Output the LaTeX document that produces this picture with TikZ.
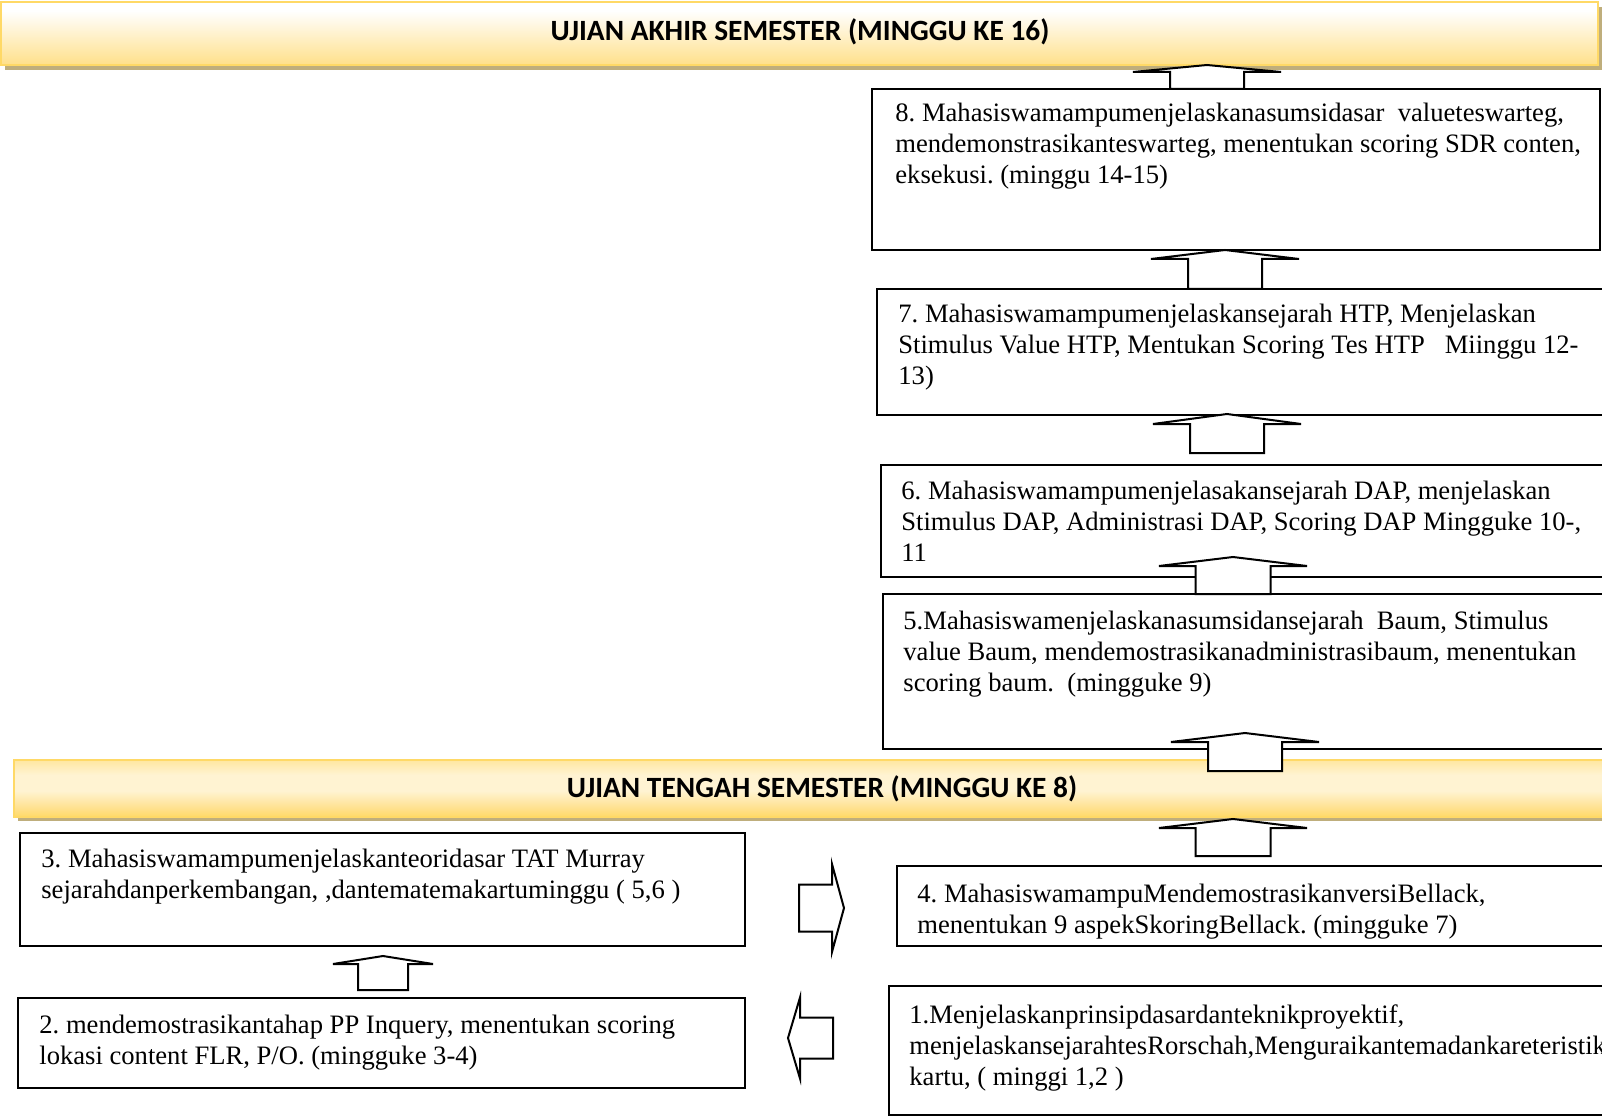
\documentclass[tikz,border=0pt]{standalone}
\usepackage{fontspec}
\setmainfont{Liberation Serif}
\newfontfamily\bannerfont{Carlito}
\usetikzlibrary{fit}
\definecolor{goldedge}{HTML}{FFD966}
\definecolor{goldlight}{HTML}{FFF3D2}
\definecolor{goldbot}{HTML}{FFE08A}
\definecolor{goldtop}{HTML}{FFE7A0}
\definecolor{shadowc}{HTML}{BFAE7C}
\pgfdeclareverticalshading{midban}{100bp}{color(0bp)=(goldedge); color(25bp)=(goldedge); color(32bp)=(goldbot); color(48bp)=(goldlight); color(62bp)=(goldlight); color(75bp)=(goldtop); color(100bp)=(goldtop)}
\pgfdeclareverticalshading{topban}{100bp}{color(0bp)=(goldbot); color(25bp)=(goldbot); color(68bp)=(white); color(100bp)=(white)}
\tikzset{
  boxnode/.style={draw=black, line width=1pt, fill=white, inner sep=0pt},
  txt/.style={anchor=base west, inner sep=0pt, font=\fontsize{13.3}{15.5}\selectfont},
  blk/.style={draw=black, line width=1pt, fill=white, line join=miter},
  bannertext/.style={inner sep=0pt, font=\bannerfont\bfseries\fontsize{14.7}{16}\selectfont},
}
\newcommand\blkup[6]{% tipx tipy basey headhalf shafthalf bottomy
  \filldraw[blk] (#1,#2) -- (#1+#4,#3) -- (#1+#5,#3) -- (#1+#5,#6) -- (#1-#5,#6) -- (#1-#5,#3) -- (#1-#4,#3) -- cycle;}
\newcommand\blkh[6]{% tipx tipy basex headhalf shafthalf tailx
  \filldraw[blk] (#1,#2) -- (#3,#2+#4) -- (#3,#2+#5) -- (#6,#2+#5) -- (#6,#2-#5) -- (#3,#2-#5) -- (#3,#2-#4) -- cycle;}
\frenchspacing
\begin{document}
\begin{tikzpicture}[x=0.5pt,y=-0.5pt]
\clip (0,0) rectangle (1602,1118);
\fill[white] (0,0) rectangle (1602,1118);
% top banner
\fill[shadowc] (5,7) rectangle (1602,70);
\shade[shading=topban] (1,2) rectangle (1598,65);
\draw[goldedge, line width=1.2pt] (1,2) rectangle (1598,65);
\node[bannertext] (ban16) at (800,32) {UJIAN AKHIR SEMESTER (MINGGU KE 16)};
% middle banner
\fill[shadowc] (18,764) rectangle (1624,821);
\shade[shading=midban] (14,760) rectangle (1620,817);
\draw[goldedge, line width=1.2pt] (14,760) rectangle (1620,817);
\node[bannertext] (ban8) at (822,789) {UJIAN TENGAH SEMESTER (MINGGU KE 8)};
% boxes
\node[boxnode, fit={(872,89) (1600,250)}] (b8) {};
\node[boxnode, fit={(877,289) (1620,415)}] (b7) {};
\node[boxnode, fit={(881,465) (1620,577)}] (b6) {};
\node[boxnode, fit={(883,594) (1620,749)}] (b5) {};
\node[boxnode, fit={(20,833) (745,946)}] (b3) {};
\node[boxnode, fit={(897,866) (1620,946)}] (b4) {};
\node[boxnode, fit={(18,998) (745,1088)}] (b2) {};
\node[boxnode, fit={(889,986) (1620,1115)}] (b1) {};
% block arrows
\blkup{1207}{65}{72}{74}{37}{89}
\blkup{1225}{250}{259}{74}{37}{289}
\blkup{1227}{414}{424}{74}{37}{453}
\blkup{1233}{557}{566}{74}{37.5}{594}
\blkup{1245}{733}{742}{74}{37}{771}
\blkup{1233}{819}{828}{74}{37.5}{856}
\blkup{383}{956}{964}{50}{25}{990}
\blkh{844}{908}{832}{44}{23.5}{799}
\blkh{788}{1038}{800}{40.5}{20.5}{833}
% texts
\node[txt] (t8) at (895,122) {\begin{tabular}[t]{@{}l@{}}8. Mahasiswamampumenjelaskanasumsidasar\ \ valueteswarteg,\\ mendemonstrasikanteswarteg, menentukan scoring SDR conten,\\ eksekusi. (minggu 14-15)\end{tabular}};
\node[txt] (t7) at (898,323) {\begin{tabular}[t]{@{}l@{}}7. Mahasiswamampumenjelaskansejarah HTP, Menjelaskan\\ Stimulus Value HTP, Mentukan Scoring Tes HTP\ \ \ Miinggu 12-\\ 13)\end{tabular}};
\node[txt] (t6) at (901,499) {\begin{tabular}[t]{@{}l@{}}6. Mahasiswamampumenjelasakansejarah DAP, menjelaskan\\ Stimulus DAP, Administrasi DAP, Scoring DAP Mingguke 10-,\\ 11\end{tabular}};
\node[txt] (t5) at (903,629) {\begin{tabular}[t]{@{}l@{}}5.Mahasiswamenjelaskanasumsidansejarah\ \ Baum, Stimulus\\ value Baum, mendemostrasikanadministrasibaum, menentukan\\ scoring baum.\ \ (mingguke 9)\end{tabular}};
\node[txt] (t3) at (41,867) {\begin{tabular}[t]{@{}l@{}}3. Mahasiswamampumenjelaskanteoridasar TAT Murray\\ sejarahdanperkembangan, ,dantematemakartuminggu ( 5,6 )\end{tabular}};
\node[txt] (t4) at (917,902) {\begin{tabular}[t]{@{}l@{}}4. MahasiswamampuMendemostrasikanversiBellack,\\ menentukan 9 aspekSkoringBellack. (mingguke 7)\end{tabular}};
\node[txt] (t2) at (39,1033) {\begin{tabular}[t]{@{}l@{}}2. mendemostrasikantahap PP Inquery, menentukan scoring\\ lokasi content FLR, P/O. (mingguke 3-4)\end{tabular}};
\node[txt] (t1) at (909,1023) {\begin{tabular}[t]{@{}l@{}}1.Menjelaskanprinsipdasardanteknikproyektif,\\ menjelaskansejarahtesRorschah,Menguraikantemadankareteristik\\ kartu, ( minggi 1,2 )\end{tabular}};
\end{tikzpicture}
\end{document}
